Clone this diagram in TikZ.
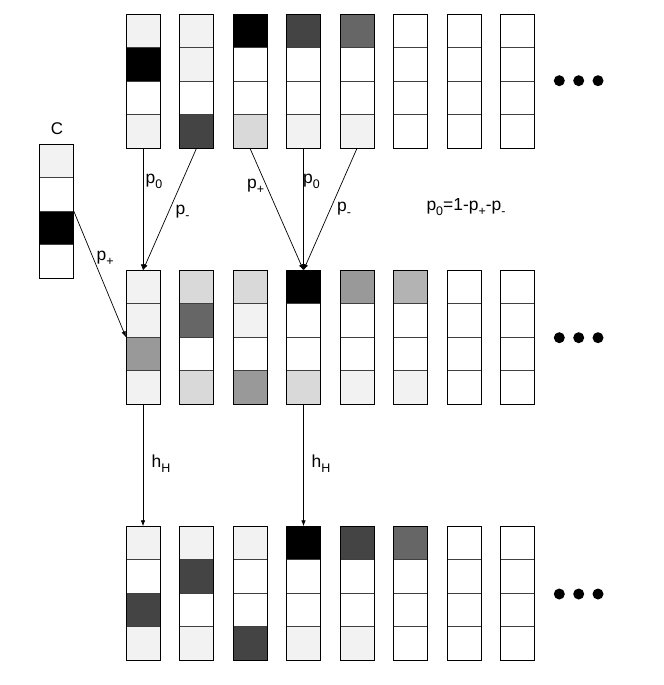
\documentclass[tikz,border=0pt]{standalone}
\usepackage{fontspec}
\setmainfont{Liberation Sans}
\usetikzlibrary{arrows.meta}
\definecolor{gA}{HTML}{F2F2F2}
\definecolor{gB}{HTML}{D9D9D9}
\definecolor{gC}{HTML}{B3B3B3}
\definecolor{gD}{HTML}{999999}
\definecolor{gE}{HTML}{666666}
\definecolor{gF}{HTML}{444444}
\definecolor{wh}{HTML}{FFFFFF}
\definecolor{bk}{HTML}{000000}
\newcommand{\sbx}[1]{\raisebox{-5bp}{\fontsize{12.5}{14}\selectfont #1}}
\begin{document}
\begin{tikzpicture}[x=1bp,y=-1bp,
  cell/.style={draw=black!75, line width=0.8bp, minimum width=34bp, minimum height=33.5bp, inner sep=0pt, outer sep=0pt},
  frame/.style={draw=black, line width=0.8bp},
  dotnode/.style={circle, fill=black, minimum size=11bp, inner sep=0pt},
  lbl/.style={font=\fontsize{17.5}{20}\selectfont, inner sep=0pt, anchor=base west},
  arr/.style={line width=0.7bp, -{Latex[length=6bp,width=4.5bp]}}]
\useasboundingbox (0,0) rectangle (664,685);
% top row
\foreach [count=\i] \fa/\fb/\fc/\fd in {gA/bk/wh/gA, gA/gA/wh/gF, bk/wh/wh/gB, gF/wh/wh/gA, gE/wh/wh/gA, wh/wh/wh/wh, wh/wh/wh/wh, wh/wh/wh/wh}{
  \foreach [count=\j] \f in {\fa,\fb,\fc,\fd}
    \node[cell, fill=\f] (t\i-\j) at ({143+53.5*(\i-1)}, {14.3+33.5*(\j-0.5)}) {};
  \draw[frame] (t\i-1.north west) rectangle (t\i-4.south east);
}
% middle row
\foreach [count=\i] \fa/\fb/\fc/\fd in {gA/gA/gD/gA, gB/gE/wh/gB, gB/gA/wh/gD, bk/wh/wh/gB, gD/wh/wh/gA, gC/wh/wh/gA, wh/wh/wh/wh, wh/wh/wh/wh}{
  \foreach [count=\j] \f in {\fa,\fb,\fc,\fd}
    \node[cell, fill=\f] (m\i-\j) at ({143+53.5*(\i-1)}, {270.3+33.5*(\j-0.5)}) {};
  \draw[frame] (m\i-1.north west) rectangle (m\i-4.south east);
}
% bottom row
\foreach [count=\i] \fa/\fb/\fc/\fd in {gA/wh/gF/gA, gA/gF/wh/gA, gA/wh/wh/gF, bk/wh/wh/gA, gF/wh/wh/gA, gE/wh/wh/wh, wh/wh/wh/wh, wh/wh/wh/wh}{
  \foreach [count=\j] \f in {\fa,\fb,\fc,\fd}
    \node[cell, fill=\f] (b\i-\j) at ({143+53.5*(\i-1)}, {526.3+33.5*(\j-0.5)}) {};
  \draw[frame] (b\i-1.north west) rectangle (b\i-4.south east);
}
% C column
\foreach [count=\j] \f in {gA,wh,bk,wh}
  \node[cell, fill=\f] (c-\j) at (56.85, {144.3+33.5*(\j-0.5)}) {};
\draw[frame] (c-1.north west) rectangle (c-4.south east);
\node[font=\fontsize{17}{20}\selectfont, inner sep=0pt, anchor=base] (clbl) at (57,134.3) {C};
% dots
\foreach \k/\y in {t/80.7, m/337.7, b/594}{
  \node[dotnode] (\k d1) at (559.3,\y) {};
  \node[dotnode] (\k d2) at (578.7,\y) {};
  \node[dotnode] (\k d3) at (598,\y) {};
}
% arrows
\draw[arr] (t1-4.south) -- (m1-1.north);
\draw[arr] (t2-4.south) -- (m1-1.north);
\draw[arr] (c-3.north east) -- (m1-3.north west);
\draw[arr] (t3-4.south) -- (m4-1.north);
\draw[arr] (t4-4.south) -- (m4-1.north);
\draw[arr] (t5-4.south) -- (m4-1.north);
\draw[arr] (m1-4.south) -- (b1-1.north);
\draw[arr] (m4-4.south) -- (b4-1.north);
% labels
\node[lbl] (l1) at (145.5,183) {p\sbx{0}};
\node[lbl] (l2) at (175.5,214) {p\sbx{-}};
\node[lbl] (l3) at (96.5,260) {p\sbx{+}};
\node[lbl] (l4) at (247,188) {p\sbx{+}};
\node[lbl] (l5) at (303,183) {p\sbx{0}};
\node[lbl] (l6) at (337,211) {p\sbx{-}};
\node[lbl] (l7) at (426.3,210) {p\sbx{0}=1-p\sbx{+}-p\sbx{-}};
\node[lbl] (l8) at (151.5,467) {h\sbx{H}};
\node[lbl] (l9) at (311.5,467) {h\sbx{H}};
\end{tikzpicture}
\end{document}
